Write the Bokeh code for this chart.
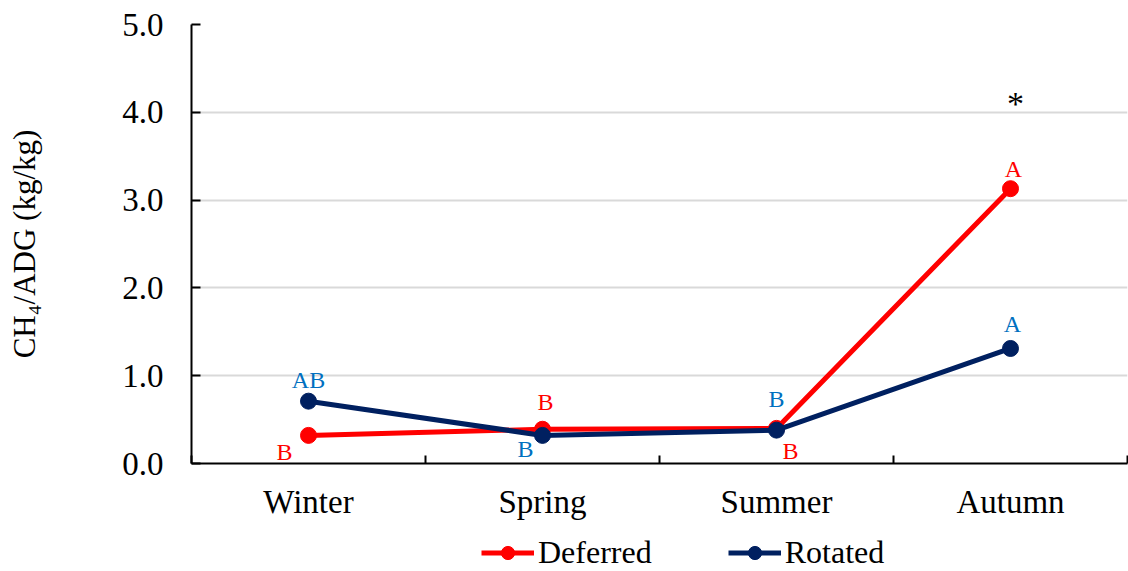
from bokeh.plotting import figure
from bokeh.layouts import column
from bokeh.models import ColumnDataSource, FixedTicker, Legend, LegendItem
from bokeh.core.properties import value
from bokeh.embed import file_html
from bokeh.resources import INLINE

# Seasonal CH4 per unit of average daily gain, by grazing method
seasons = ["Winter", "Spring", "Summer", "Autumn"]
deferred = [0.32, 0.39, 0.40, 3.13]
rotated = [0.71, 0.32, 0.38, 1.31]
deferred_letters = ["B", "B", "B", "A"]
rotated_letters = ["AB", "B", "B", "A"]
y_ticks = [0.0, 1.0, 2.0, 3.0, 4.0, 5.0]
series_names = ["Deferred", "Rotated"]

FONT = "Liberation Serif"
RED = "#FF0000"
NAVY = "#002060"
BLUE_TXT = "#0070C0"

xs = [i + 0.5 for i in range(len(seasons))]

p = figure(width=1128, height=525, x_range=(0, len(seasons)), y_range=(0, 5),
           output_backend="svg", toolbar_location=None,
           min_border_left=191, min_border_right=1, min_border_top=24,
           min_border_bottom=62)
p.outline_line_color = None
p.background_fill_color = "white"

# x axis: season names at centres, small inward ticks at the boundaries
p.xaxis.ticker = FixedTicker(ticks=xs, minor_ticks=list(range(len(seasons) + 1)))
p.xaxis.major_label_overrides = {x: s for x, s in zip(xs, seasons)}
p.xaxis.major_tick_in = 0
p.xaxis.major_tick_out = 0
p.xaxis.minor_tick_in = 8
p.xaxis.minor_tick_out = 0
p.xaxis.minor_tick_line_color = "black"
p.xaxis.minor_tick_line_width = 2
p.xaxis.axis_line_width = 2
p.xaxis.axis_line_color = "black"
p.xaxis.major_label_text_font = FONT
p.xaxis.major_label_text_font_size = "33px"
p.xaxis.major_label_text_color = "black"
p.xaxis.major_label_standoff = 20

# y axis
p.yaxis.ticker = FixedTicker(ticks=y_ticks)
p.yaxis.major_label_overrides = {t: f"{t:.1f}" for t in y_ticks}
p.yaxis.major_tick_in = 9
p.yaxis.major_tick_out = 0
p.yaxis.major_tick_line_width = 2
p.yaxis.minor_tick_line_color = None
p.yaxis.axis_line_width = 2
p.yaxis.axis_line_color = "black"
p.yaxis.major_label_text_font = FONT
p.yaxis.major_label_text_font_size = "33px"
p.yaxis.major_label_text_color = "black"
p.yaxis.major_label_standoff = 28
p.yaxis.axis_label = "CH₄/ADG (kg/kg)"
p.yaxis.axis_label_text_font = FONT
p.yaxis.axis_label_text_font_size = "31px"
p.yaxis.axis_label_text_font_style = "normal"
p.yaxis.axis_label_text_color = "black"
p.yaxis.axis_label_standoff = 77

p.xgrid.grid_line_color = None
p.ygrid.grid_line_color = "#D9D9D9"
p.ygrid.grid_line_width = 2

src = ColumnDataSource(dict(x=xs, deferred=deferred, rotated=rotated,
                            dl=deferred_letters, rl=rotated_letters))

p.line("x", "deferred", source=src, line_color=RED, line_width=5)
p.scatter("x", "deferred", source=src, size=16, fill_color=RED, line_color=RED)
p.line("x", "rotated", source=src, line_color=NAVY, line_width=5)
p.scatter("x", "rotated", source=src, size=16, fill_color=NAVY, line_color=NAVY)

# letter labels, offset in screen pixels from each point
def_offsets = dict(dx=[-24, 3, 14, 3], dy=[17, -27, 23, -20])
rot_offsets = dict(dx=[0, -17, 0, 2], dy=[-21, 14, -31, -24])
src.data.update(ddx=def_offsets["dx"], ddy=def_offsets["dy"],
                rdx=rot_offsets["dx"], rdy=rot_offsets["dy"])

p.text("x", "deferred", text="dl", source=src, x_offset="ddx", y_offset="ddy",
       text_font=value(FONT), text_font_size="24px", text_color=RED,
       text_align="center", text_baseline="middle")
p.text("x", "rotated", text="rl", source=src, x_offset="rdx", y_offset="rdy",
       text_font=value(FONT), text_font_size="24px", text_color=BLUE_TXT,
       text_align="center", text_baseline="middle")

# significance mark above autumn
top = max(deferred[-1], rotated[-1])
p.text([xs[-1]], [top], text=["*"], x_offset=5, y_offset=-85,
       text_font=value(FONT), text_font_size="34px", text_color="black",
       text_align="center", text_baseline="middle")

# legend strip underneath the chart
lg = figure(width=1128, height=46, x_range=(0, 1), y_range=(0, 1),
            output_backend="svg", toolbar_location=None,
            min_border_left=0, min_border_right=0, min_border_top=0,
            min_border_bottom=0)
lg.axis.visible = False
lg.grid.visible = False
lg.outline_line_color = None
nan = float("nan")
items = []
for name, color in zip(series_names, [RED, NAVY]):
    ln = lg.line([nan], [nan], line_color=color, line_width=5)
    pt = lg.scatter([nan], [nan], size=16, fill_color=color, line_color=color)
    items.append(LegendItem(label=name, renderers=[ln, pt]))

legend = Legend(items=items, orientation="horizontal", location=(290, 0),
                label_text_font=FONT, label_text_font_size="32px",
                label_text_color="black",
                glyph_width=53, glyph_height=33, label_standoff=4, spacing=76,
                padding=0, margin=0, border_line_color=None,
                background_fill_alpha=0)
lg.add_layout(legend, "center")

open("out.html", "w").write(file_html(column(p, lg), INLINE))
